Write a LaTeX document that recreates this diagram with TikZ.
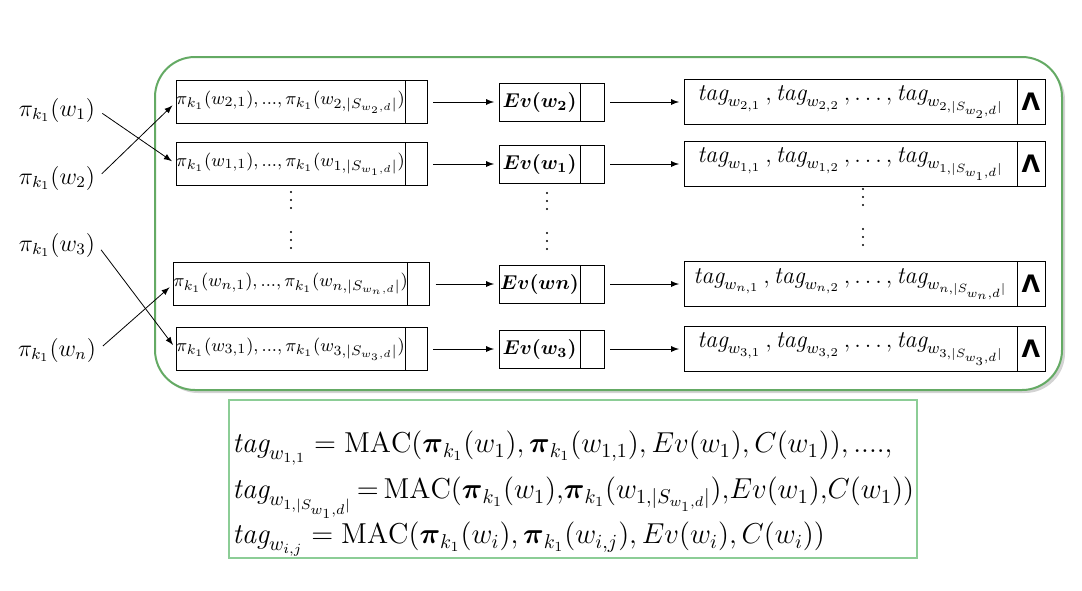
\documentclass[tikz,border=0pt]{standalone}
\usepackage{amsmath,amssymb}
\usepackage{fontspec}
\newfontfamily\lamfont{DejaVu Sans}
\usetikzlibrary{positioning,shadows}
\definecolor{framegreen}{RGB}{100,170,100}
\definecolor{boxgreen}{RGB}{140,205,150}
\newcommand{\tg}{\mathit{tag}}

\begin{document}
\begin{tikzpicture}[x=0.5pt,y=-0.5pt,>=latex,
    cell/.style={draw,inner sep=0pt,outer sep=0pt},
    permbox/.style={cell,minimum width=114.5pt,minimum height=21.5pt,font=\fontsize{9.3}{11}\selectfont},
    permcell/.style={cell,minimum width=11pt,minimum height=21.5pt},
    evbox/.style={cell,minimum width=40.5pt,minimum height=19pt,font=\normalsize},
    evcell/.style={cell,minimum width=12pt,minimum height=19pt},
    tagbox/.style={cell,minimum width=166.5pt,minimum height=22.5pt,font=\large},
    tagcell/.style={cell,minimum width=14pt,minimum height=22.5pt,font=\large},
    lbl/.style={inner sep=1pt,font=\large},
    link/.style={->,shorten <=3pt,shorten >=2.5pt}]

    \useasboundingbox (0,0) rectangle (1082,590);

    \draw[framegreen,line width=1pt,fill=white,rounded corners=20pt,
        drop shadow={shadow xshift=1.5pt,shadow yshift=-1.5pt,opacity=0.35}]
        (155,57) rectangle (1062,390);

    \foreach \r/\y/\s/\e in {a/102/2/w_2, b/164/1/w_1, c/284/n/wn, d/349/3/w_3} {
        \node[permbox] (p\r) at (290.5,\y)
            {$\pi_{k_1}(w_{\s,1}),...,\pi_{k_1}(w_{\s,|S_{w_{\s},d}|})$};
        \node[permcell,right=0pt of p\r] (pc\r) {};
        \node[evbox] (ev\r) at (539.5,\y) {$\boldsymbol{Ev(\e)}$};
        \node[evcell,right=0pt of ev\r] (evc\r) {};
        \node[tagbox] (tg\r) at (850.5,\y)
            {$\tg_{w_{\s,1}}\,,\tg_{w_{\s,2}}\,,\dots,\tg_{w_{\s,|S_{w_{\s},d}|}}$};
        \node[tagcell,right=0pt of tg\r] (tgc\r) {\lamfont\bfseries Λ};
        \draw[link] (pc\r) -- (ev\r);
        \draw[link] (evc\r) -- (tg\r);
    }

    \foreach \x/\y in {291/192, 547/193, 863/189}
        \foreach \d in {0,8,16,40,48,56}
            \fill (\x,\y+\d) circle (0.6pt);

    \node[lbl] (k1) at (57,110) {$\pi_{k_1}(w_1)$};
    \node[lbl] (k2) at (57,178) {$\pi_{k_1}(w_2)$};
    \node[lbl] (k3) at (57,245) {$\pi_{k_1}(w_3)$};
    \node[lbl] (kn) at (57,350) {$\pi_{k_1}(w_n)$};

    \draw[link] (k1.east) -- (pb.west);
    \draw[link] (k2.east) -- (pa.west);
    \draw[link] (k3.east) -- (pd.west);
    \draw[link] (kn.east) -- (pc.west);

    \draw[boxgreen,thick] (229,400) rectangle (917,558);
    \node[anchor=west,inner sep=0pt,font=\Large] (mac) at (232,492)
        {\begin{tabular}{@{}l@{}}
        $\tg_{w_{1,1}} = \mathrm{MAC}(\boldsymbol{\pi}_{k_1}(w_1),\boldsymbol{\pi}_{k_1}(w_{1,1}),Ev(w_1),C(w_1)),....,$\\[5pt]
        $\thickmuskip=3mu \tg_{w_{1,|S_{w_1,d}|}} = \mathrm{MAC}(\boldsymbol{\pi}_{k_1}(w_1),\!\boldsymbol{\pi}_{k_1}(w_{1,|S_{w_1,d}|}),\!Ev(w_1),\!C(w_1))$\\[4pt]
        $\tg_{w_{i,j}} = \mathrm{MAC}(\boldsymbol{\pi}_{k_1}(w_i),\boldsymbol{\pi}_{k_1}(w_{i,j}),Ev(w_i),C(w_i))$
        \end{tabular}};

\end{tikzpicture}
\end{document}
